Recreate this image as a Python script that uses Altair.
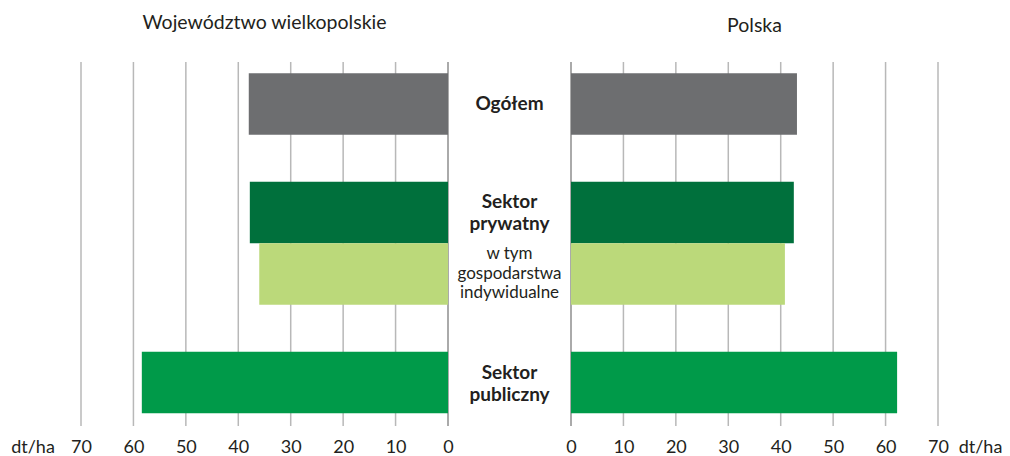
import altair as alt
import pandas as pd

# ---- data -------------------------------------------------------------
categories = ["Ogółem", "Sektor prywatny", "w tym gospodarstwa indywidualne", "Sektor publiczny"]
groups = ["Ogółem", "Sektor prywatny", "Sektor prywatny", "Sektor publiczny"]
group_order = ["Ogółem", "Sektor prywatny", "Sektor publiczny"]
slots = ["full", "upper", "lower", "full"]
wielkopolskie = [38.0, 37.8, 36.0, 58.4]
polska = [43.1, 42.5, 40.8, 62.2]
bar_colors = ["#6d6e70", "#00703c", "#bbd97a", "#009a49"]
label_lines = [["Ogółem"], ["Sektor", "prywatny"],
               ["w tym", "gospodarstwa", "indywidualne"], ["Sektor", "publiczny"]]
tick_values = [0, 10, 20, 30, 40, 50, 60, 70]
unit = "dt/ha"
title_left = "Województwo wielkopolskie"
title_right = "Polska"

df = pd.DataFrame({
    "category": categories,
    "group": groups,
    "slot": slots,
    "wlkp": wielkopolskie,
    "pl": polska,
    "lines": label_lines,
})
ticks_df = pd.DataFrame({"v": tick_values})

FONT = "Lato"
TXT = "#231f20"
W, GAP, H = 367, 123, 364

y_scale = alt.Scale(domain=group_order, range=[-19.5, 382], paddingInner=0.1167, paddingOuter=0)
off_scale = alt.Scale(domain=["upper", "lower"], paddingInner=0, paddingOuter=0)
color = alt.Color("category:N", scale=alt.Scale(domain=categories, range=bar_colors), legend=None)


def panel(field, reverse, title_text, title_offset, unit_x):
    axis = alt.Axis(values=tick_values, grid=False, labelFlush=False, labelOverlap=False,
                    domain=False, ticks=False, tickSize=0,
                    labelFont=FONT, labelFontSize=18, labelColor=TXT, labelPadding=21,
                    labelBaseline="middle",
                    title=unit, titleFont=FONT, titleFontSize=18, titleFontWeight="normal",
                    titleColor=TXT, titleX=unit_x, titleY=21, titleAlign="center",
                    titleBaseline="middle", titleAngle=0)
    xscale = alt.Scale(domain=[0, 70], reverse=reverse, nice=False)
    y = alt.Y("group:N", scale=y_scale, axis=None)
    grid = alt.Chart(ticks_df).mark_rule(strokeWidth=1.5).encode(
        x=alt.X("v:Q", scale=xscale, axis=axis),
        color=alt.condition(alt.datum.v == 0, alt.value("#8e8e8e"), alt.value("#b8b8b8")))
    base = alt.Chart(df)
    xenc = alt.X(f"{field}:Q", scale=xscale, axis=axis)
    single = base.transform_filter(alt.datum.slot == "full").mark_bar(
        height={"band": 0.5}).encode(x=xenc, y=y, color=color)
    split = base.transform_filter(alt.datum.slot != "full").mark_bar().encode(
        x=xenc, y=y, yOffset=alt.YOffset("slot:N", scale=off_scale), color=color)
    return alt.layer(grid, single, split).resolve_scale(color="independent").properties(
        width=W, height=H,
        title=alt.TitleParams(title_text, font=FONT, fontSize=19.5, fontWeight="normal",
                              color=TXT, anchor="middle", baseline="alphabetic",
                              offset=title_offset))


left = panel("wlkp", True, title_left, 13, -48.5)
right = panel("pl", False, title_right, 10, 409)

ytxt = alt.Y("group:N", scale=y_scale, axis=None)
tbase = alt.Chart(df)
t_ogolem = tbase.transform_filter(alt.datum.category == "Ogółem").mark_text(
    font=FONT, fontSize=19, fontWeight="bold", color=TXT, baseline="middle").encode(
    y=ytxt, text="lines")
t_publ = tbase.transform_filter(alt.datum.category == "Sektor publiczny").mark_text(
    font=FONT, fontSize=19, fontWeight="bold", color=TXT, baseline="middle",
    lineHeight=22, dy=-10).encode(y=ytxt, text="lines")
t_priv = tbase.transform_filter(alt.datum.slot == "upper").mark_text(
    font=FONT, fontSize=19, fontWeight="bold", color=TXT, baseline="middle",
    lineHeight=22, dy=-11).encode(
    y=ytxt, yOffset=alt.YOffset("slot:N", scale=off_scale), text="lines")
t_ind = tbase.transform_filter(alt.datum.slot == "lower").mark_text(
    font=FONT, fontSize=17, fontWeight="normal", color=TXT, baseline="middle",
    lineHeight=19.5, dy=-19.5).encode(
    y=ytxt, yOffset=alt.YOffset("slot:N", scale=off_scale), text="lines")
middle = alt.layer(t_ogolem, t_publ, t_priv, t_ind).properties(width=GAP, height=H)

chart = alt.hconcat(left, middle, right, spacing=0, bounds="flush").configure_view(
    stroke=None).properties(padding={"left": 2, "top": 4, "right": 0, "bottom": 0})

chart.save("out.html", embed_options={"renderer": "svg", "actions": False})
